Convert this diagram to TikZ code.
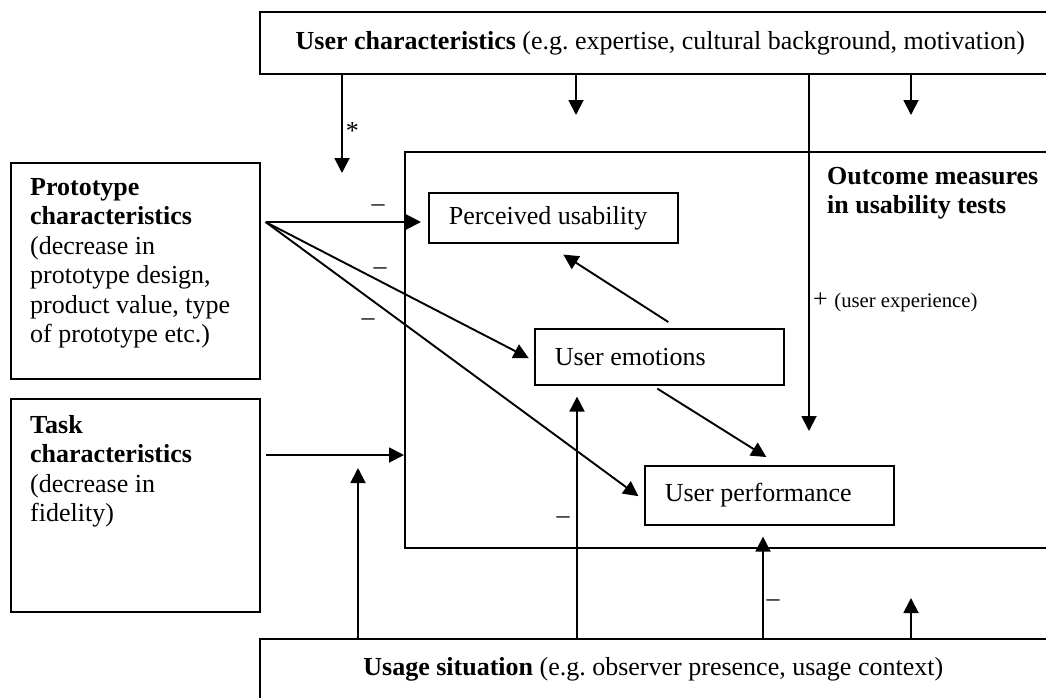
\documentclass[tikz,border=0pt]{standalone}
\usepackage{fontspec}
\setmainfont{Liberation Serif}
\frenchspacing
\usetikzlibrary{arrows.meta}
\newcommand{\bigfont}{\fontsize{26}{29.5}\selectfont}
\newcommand{\smallfont}{\fontsize{20.7}{24}\selectfont}
\tikzset{
  box/.style={draw, line width=1.6pt, inner sep=0pt, anchor=north west},
  sidebox/.style={box, minimum width=249pt},
  measure/.style={box, text width=209pt, align=left, inner xsep=20pt,
    execute at begin node={\spaceskip=0pt\relax}},
  boxtext/.style={anchor=north west, align=left, inner sep=0pt},
  sign/.style={inner sep=0pt},
  link/.style={-{Triangle[length=15pt, width=15pt]}, line width=1.9pt},
}

\begin{document}
\begin{tikzpicture}[x=1pt, y=-1pt, font=\bigfont]
\useasboundingbox (0,0) rectangle (1046,697);
\clip (0,0) rectangle (1046,697);

%% ---- boxes ---------------------------------------------------------------
\node[box, minimum width=801pt, minimum height=62pt] (usr) at (259,11)
  {\textbf{User characteristics} (e.g. expertise, cultural background, motivation)};
\node[box, minimum width=656pt, minimum height=396pt] (out) at (404,151) {};
\node[boxtext, font=\bigfont\bfseries] (outtitle) at (827,167)
  {Outcome measures\\in usability tests};

\node[sidebox, minimum height=216pt] (proto) at (10,162) {};
\node[boxtext] (prototext) at (30,178)
  {\textbf{Prototype}\\\textbf{characteristics}\\(decrease in\\prototype design,\\product value, type\\of prototype etc.)};
\node[sidebox, minimum height=213pt] (task) at (10,398) {};
\node[boxtext] (tasktext) at (30,415)
  {\textbf{Task}\\\textbf{characteristics}\\(decrease in\\fidelity)};

\node[box, minimum width=787pt, minimum height=62pt] (use) at (259,638)
  {\textbf{Usage situation} (e.g. observer presence, usage context)};

% outcome measures inside the big box
\node[measure, minimum height=50pt] (perc) at (428,192) {Perceived usability};
\node[measure, minimum height=56pt] (emo) at (534,328) {User emotions};
\node[measure, minimum height=59pt] (perf) at (644,465) {User performance};

%% ---- links from the left -------------------------------------------------
\coordinate (pc) at ([shift={(5,60)}]proto.north east);
\coordinate (tc) at ([shift={(5,57)}]task.north east);
\draw[link, shorten >=7pt] (pc) -- (pc -| perc.west);
\draw[link, shorten >=6pt] (pc) -- ([yshift=-4pt]emo.west);
\draw[link, shorten >=7pt] (pc) -- ([yshift=-5pt]perf.west);
\draw[link] (tc) -- (tc -| out.west);
\node[sign] (m1) at (378,208) {–};
\node[sign] (m2) at (380,271) {–};
\node[sign] (m3) at (368,322) {–};

%% ---- links between the measures ------------------------------------------
\draw[link] ([shift={(9,-6)}]emo.north) -- ([shift={(10,11)}]perc.south);
\draw[link] ([shift={(-2,3)}]emo.south) -- ([shift={(-3,-8)}]perf.north);

%% ---- links from the top --------------------------------------------------
\coordinate (t1) at (342,173);
\coordinate (t2) at (576,115);
\coordinate (t3) at (809,431);
\coordinate (t4) at (911,115);
\draw[link] (usr.south -| t1) -- node[pos=0.57, right, inner sep=3pt] (star) {*} (t1);
\draw[link] (usr.south -| t2) -- (t2);
\draw[link] (usr.south -| t3) -- (t3);
\draw[link] (usr.south -| t4) -- (t4);
\node[sign, anchor=west] (plus) at (813,302) {+ {\smallfont(user experience)}};

%% ---- links from the bottom -----------------------------------------------
\coordinate (b1) at (358,468);
\coordinate (b2) at ([shift={(43,11)}]emo.south west);
\coordinate (b3) at ([shift={(119,11)}]perf.south west);
\coordinate (b4) at (911,598);
\draw[link] (use.north -| b1) -- (b1);
\draw[link] (use.north -| b2) -- (b2);
\draw[link] (use.north -| b3) -- (b3);
\draw[link] (use.north -| b4) -- (b4);
\node[sign] (m4) at (563,520) {–};
\node[sign] (m5) at (773,603) {–};

\end{tikzpicture}
\end{document}
